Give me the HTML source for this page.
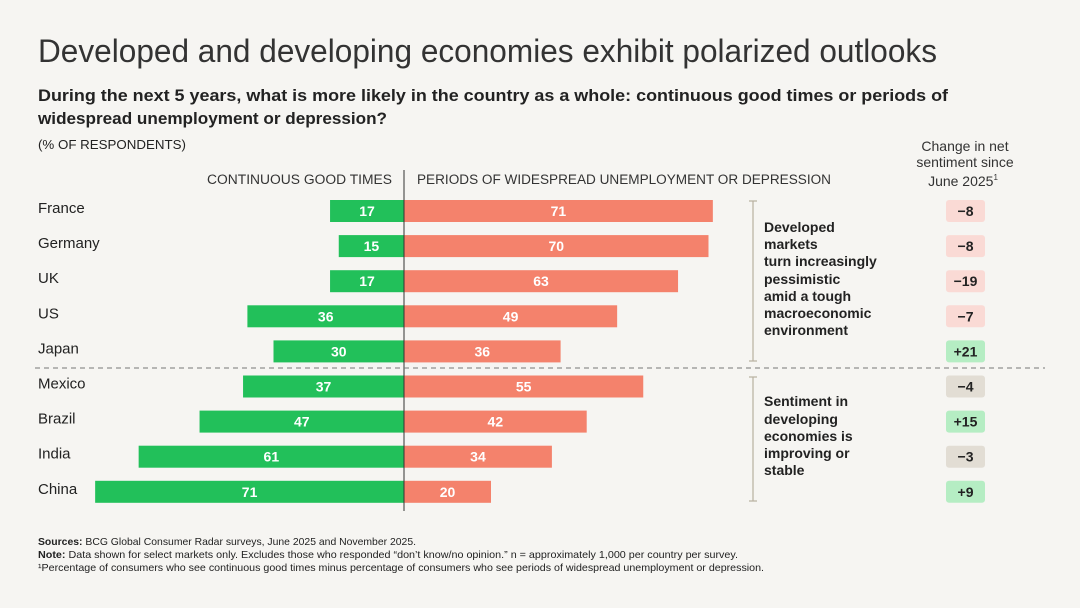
<!DOCTYPE html>
<html><head><meta charset="utf-8"><style>
body{margin:0;background:#f6f5f2;}
svg{display:block;font-family:"Liberation Sans",sans-serif;}
</style></head><body>
<svg id="chart" width="1080" height="608" viewBox="0 0 1080 608">
<rect width="1080" height="608" fill="#f6f5f2"/>
<text x="38" y="62" font-size="32" fill="#333" textLength="899" lengthAdjust="spacingAndGlyphs">Developed and developing economies exhibit polarized outlooks</text>
<text x="38" y="101" font-size="17" font-weight="bold" fill="#222" textLength="910" lengthAdjust="spacingAndGlyphs">During the next 5 years, what is more likely in the country as a whole: continuous good times or periods of</text>
<text x="38" y="124" font-size="17" font-weight="bold" fill="#222" textLength="349" lengthAdjust="spacingAndGlyphs">widespread unemployment or depression?</text>
<text x="38" y="149" font-size="13" fill="#222" textLength="148" lengthAdjust="spacingAndGlyphs">(% OF RESPONDENTS)</text>
<text x="392" y="184" font-size="13.5" fill="#333" text-anchor="end" textLength="185" lengthAdjust="spacingAndGlyphs">CONTINUOUS GOOD TIMES</text>
<text x="417" y="184" font-size="13.5" fill="#333" textLength="414" lengthAdjust="spacingAndGlyphs">PERIODS OF WIDESPREAD UNEMPLOYMENT OR DEPRESSION</text>
<g font-size="14" fill="#333" text-anchor="middle">
<text x="965" y="151">Change in net</text>
<text x="965" y="167">sentiment since</text>
<text x="963" y="186">June 2025<tspan font-size="8" dy="-6">1</tspan></text>
</g>
<g id="bars"></g>
<line x1="404" y1="170" x2="404" y2="511" stroke="#333" stroke-width="1"/>
<line x1="35" y1="368" x2="1045" y2="368" stroke="#777" stroke-width="1" stroke-dasharray="5,4"/>
<g stroke="#b8b0a0" stroke-width="1.2">
<line x1="753" y1="201" x2="753" y2="361"/><line x1="749" y1="201" x2="757" y2="201"/><line x1="749" y1="361" x2="757" y2="361"/>
</g>
<g stroke="#b8b0a0" stroke-width="1.2">
<line x1="753" y1="377" x2="753" y2="501"/><line x1="749" y1="377" x2="757" y2="377"/><line x1="749" y1="501" x2="757" y2="501"/>
</g>
<g font-size="14" font-weight="bold" fill="#222">
<text x="764" y="232">Developed</text><text x="764" y="249">markets</text><text x="764" y="266">turn increasingly</text><text x="764" y="284">pessimistic</text><text x="764" y="301">amid a tough</text><text x="764" y="318">macroeconomic</text><text x="764" y="335">environment</text>
</g>
<g font-size="14" font-weight="bold" fill="#222">
<text x="764" y="406">Sentiment in</text><text x="764" y="424">developing</text><text x="764" y="441">economies is</text><text x="764" y="458">improving or</text><text x="764" y="475">stable</text>
</g>
<g font-size="10.5" fill="#222">
<text x="38" y="545" textLength="378" lengthAdjust="spacingAndGlyphs"><tspan font-weight="bold">Sources:</tspan> BCG Global Consumer Radar surveys, June 2025 and November 2025.</text>
<text x="38" y="558" textLength="700" lengthAdjust="spacingAndGlyphs"><tspan font-weight="bold">Note:</tspan> Data shown for select markets only. Excludes those who responded “don’t know/no opinion.” n = approximately 1,000 per country per survey.</text>
<text x="38" y="571" textLength="726" lengthAdjust="spacingAndGlyphs">¹Percentage of consumers who see continuous good times minus percentage of consumers who see periods of widespread unemployment or depression.</text>
</g>
</svg>
<script>
const countries = ["France","Germany","UK","US","Japan","Mexico","Brazil","India","China"];
const goodTimes = [17,15,17,36,30,37,47,61,71];
const depression = [71,70,63,49,36,55,42,34,20];
const netChange = ["−8","−8","−19","−7","+21","−4","+15","−3","+9"];
const changeTone = ["neg","neg","neg","neg","pos","neu","pos","neu","pos"];

const NS = "http://www.w3.org/2000/svg";
const g = document.getElementById("bars");
const x0 = 404, unit = 4.35;
const xScale = v => v * unit;
const yScale = i => 200 + i * 35.1;
const barH = 22;
const toneFill = {neg:"#fadad5", pos:"#b5edc3", neu:"#e2ddd4"};
function mk(tag, attrs){const e=document.createElementNS(NS,tag);for(const k in attrs)e.setAttribute(k,attrs[k]);return e;}
countries.forEach((c,i)=>{
  const y = yScale(i);
  const lab = mk("text",{x:38,y:y+13,"font-size":15,fill:"#222"});
  
  
  lab.textContent = c; g.appendChild(lab);
  const wg = xScale(goodTimes[i]);
  const bg = mk("rect",{x:x0-wg,y:y,width:wg,height:barH,fill:"#22c05a"});
  
  
  g.appendChild(bg);
  const tg = mk("text",{x:x0-wg/2,y:y+16,"font-size":14,"font-weight":"bold",fill:"#fff","text-anchor":"middle"});
  
  
  tg.textContent = goodTimes[i]; g.appendChild(tg);
  const wd = xScale(depression[i]);
  const bd = mk("rect",{x:x0,y:y,width:wd,height:barH,fill:"#f4826c"});
  
  
  g.appendChild(bd);
  const td = mk("text",{x:x0+wd/2,y:y+16,"font-size":14,"font-weight":"bold",fill:"#fff","text-anchor":"middle"});
  
  
  td.textContent = depression[i]; g.appendChild(td);
  const b = mk("rect",{x:946,y:y,width:39,height:22,rx:3,fill:toneFill[changeTone[i]]});
  
  
  g.appendChild(b);
  const bt = mk("text",{x:965.5,y:y+16,"font-size":14,"font-weight":"bold",fill:"#222","text-anchor":"middle"});
  
  
  bt.textContent = netChange[i]; g.appendChild(bt);
});
</script>
</body></html>
